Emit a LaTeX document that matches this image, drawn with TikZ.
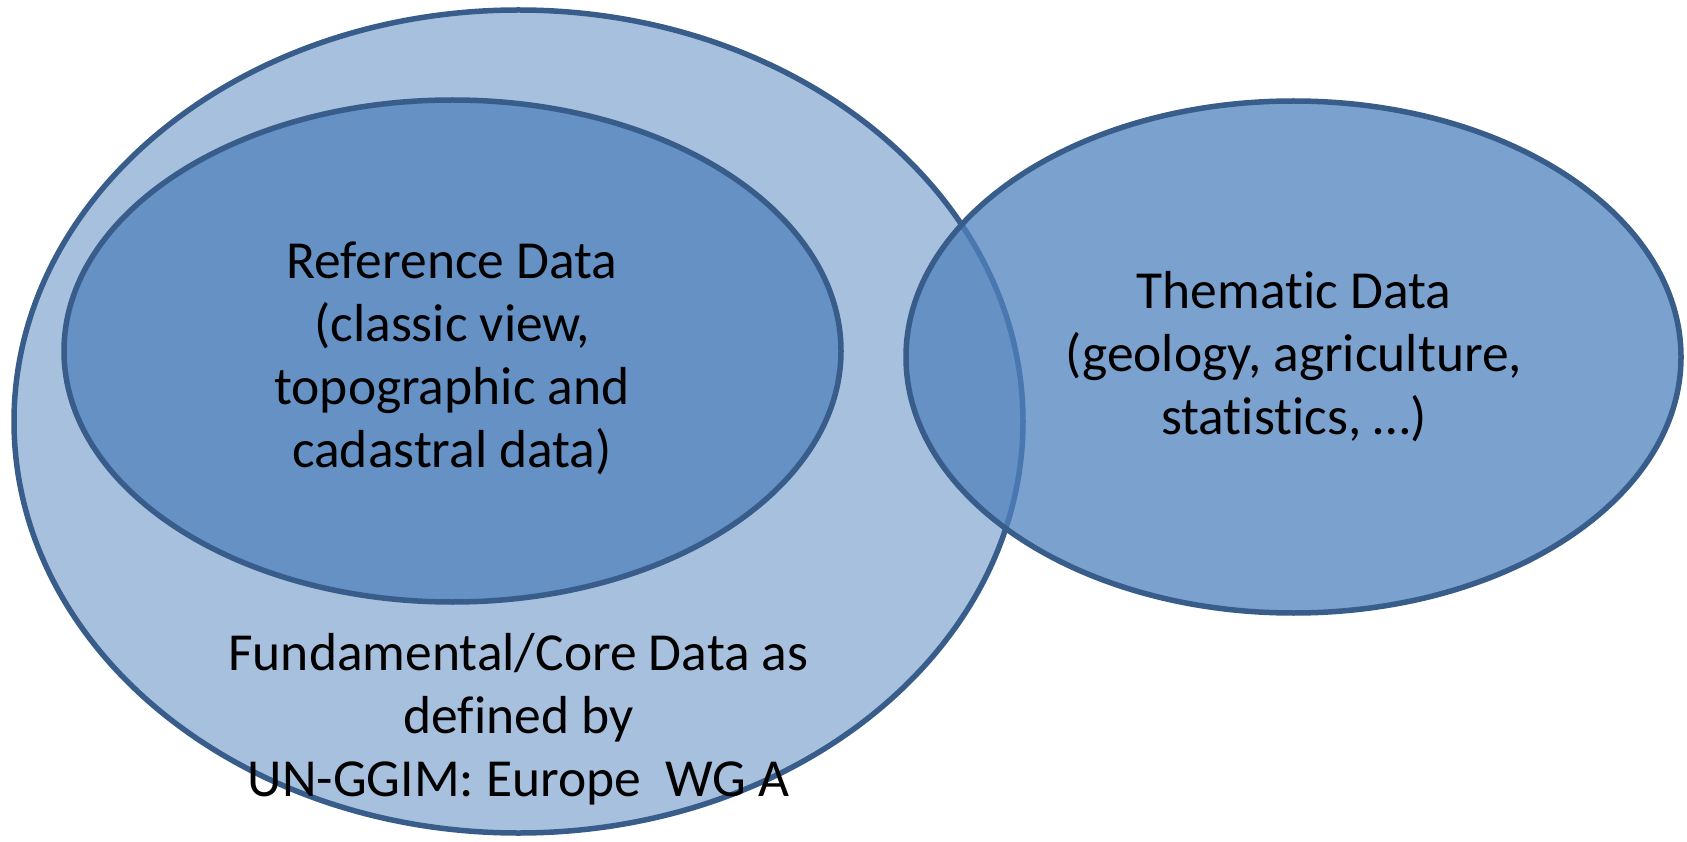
\documentclass[tikz,border=0pt]{standalone}
\usepackage{fontspec}
\setmainfont{Carlito}[Ligatures=CommonOff]
\usetikzlibrary{shapes.geometric}
\definecolor{officeblue}{HTML}{4F81BD}
\definecolor{officeedge}{HTML}{385D8A}
\tikzset{
  setbox/.style={ellipse, draw=officeedge, line width=5.5pt, fill=officeblue, inner sep=0pt},
  label text/.style={align=center, font=\fontsize{53.5}{63}\selectfont, text=black, inner sep=0pt}
}
\begin{document}
\begin{tikzpicture}[x=1pt,y=-1pt]
\useasboundingbox (0,0) rectangle (1687,842);
\node[setbox, fill opacity=0.5, minimum width=1009pt, minimum height=823pt] (core) at (518.5,421.5) {};
\node[setbox, fill opacity=0.75, minimum width=777pt, minimum height=502pt] (ref) at (452.5,351) {};
\node[setbox, fill opacity=0.75, minimum width=775pt, minimum height=512pt] (them) at (1293.5,357) {};
\node[label text] (reftext) at (452,358) {Reference Data\\(classic view,\\topographic and\\cadastral data)};
\node[label text] (themtext) at (1294,357) {Thematic Data\\(geology, agriculture,\\statistics, …)};
\node[label text] (coretext) at (518.5,719.5) {Fundamental/Core Data as\\defined by\\UN-GGIM: Europe\ \ WG A};
\end{tikzpicture}
\end{document}
